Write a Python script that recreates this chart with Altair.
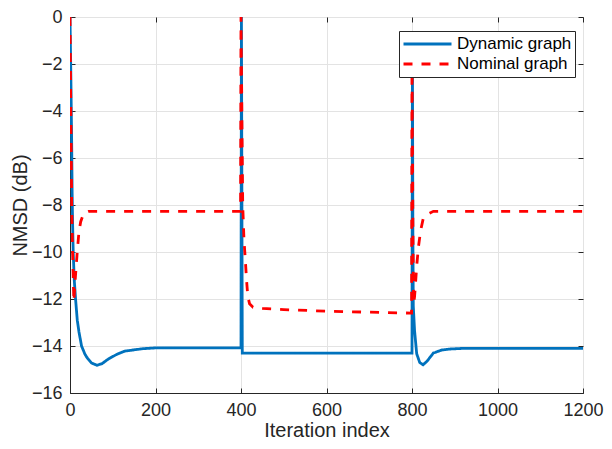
import altair as alt
import pandas as pd

# ---- data ----
series_names = ["Dynamic graph", "Nominal graph"]
series_colors = ["#0072BD", "#FF0000"]

dyn_iter = [0, 2, 4, 5, 6, 7.5, 10, 13, 17, 21, 27, 35, 40, 50, 63, 75, 90, 110, 128, 167, 200, 400,
            401, 403, 800,
            801, 802, 803, 806, 811, 818, 826, 835, 850, 870, 888, 920, 1200]
dyn_nmsd = [0, -2.5, -5.5, -7.5, -8.7, -10, -11.2, -12, -12.9, -13.4, -14, -14.35, -14.5, -14.72, -14.82,
            -14.75, -14.55, -14.35, -14.22, -14.12, -14.08, -14.08,
            0, -14.3, -14.3,
            -1.5, -9, -12.3, -13.35, -14.33, -14.7, -14.8, -14.65, -14.3, -14.17, -14.13, -14.1, -14.1]

nom_iter = [0, 2, 4, 6, 9, 13, 17, 21, 25, 32, 44, 60, 399,
            400, 402, 404, 407, 410, 413, 416, 420, 428, 450, 500, 600, 700, 799,
            800, 801, 802, 803, 804, 806, 808, 811, 815, 820, 826, 835, 850, 1200]
nom_nmsd = [0, -4, -8, -10, -12.1, -10.96, -9.98, -9.13, -8.71, -8.36, -8.27, -8.27, -8.27,
            0, -4, -8, -9.5, -10.3, -11.2, -11.9, -12.2, -12.35, -12.4, -12.45, -12.52, -12.56, -12.6,
            -1.5, -5, -8.5, -11, -12.2, -11.9, -11.4, -10.6, -9.8, -9.1, -8.6, -8.4, -8.27, -8.27]

x_ticks = [0, 200, 400, 600, 800, 1000, 1200]
y_ticks = [-16, -14, -12, -10, -8, -6, -4, -2, 0]

df = pd.concat([
    pd.DataFrame({"iter": dyn_iter, "nmsd": dyn_nmsd, "series": series_names[0]}),
    pd.DataFrame({"iter": nom_iter, "nmsd": nom_nmsd, "series": series_names[1]}),
], ignore_index=True)
df["idx"] = range(len(df))

W, H = 513, 376
FONT = "Liberation Sans"
AX = "#262626"
GRID = "#e3e3e3"

xs = alt.Scale(domain=[0, 1200], nice=False, zero=False)
ys = alt.Scale(domain=[-16, 0], nice=False, zero=False)

legend = alt.Legend(
    title=None, orient="none", legendX=329, legendY=14,
    symbolType="stroke", symbolSize=2304, symbolStrokeWidth=2.8,
    clipHeight=20, rowPadding=0, labelFontSize=17, labelFont=FONT,
    labelColor="#000000", labelOffset=4, padding=3, fillColor="white",
    strokeColor=AX, cornerRadius=0, labelLimit=300,
)
color = alt.Color("series:N", scale=alt.Scale(domain=series_names, range=series_colors), legend=legend)
dash = alt.StrokeDash("series:N", scale=alt.Scale(domain=series_names, range=[[1, 0], [9, 9]]), legend=legend)

main_x = alt.Axis(values=x_ticks, title="Iteration index", grid=True, gridColor=GRID, ticks=False,
                  labelPadding=8, labelFontSize=18, labelFont=FONT, labelColor=AX, labelFlush=False,
                  titleFontSize=20, titleFont=FONT, titleFontWeight="normal", titleColor=AX,
                  titlePadding=1, domainColor=AX, format="d")
main_y = alt.Axis(values=y_ticks, title="NMSD (dB)", grid=True, gridColor=GRID, ticks=False,
                  labelPadding=8, labelFontSize=18, labelFont=FONT, labelColor=AX, labelFlush=False,
                  titleFontSize=20, titleFont=FONT, titleFontWeight="normal", titleColor=AX,
                  titlePadding=1, domainColor=AX, format="d")


def tick_axis(values, orient, offset):
    return alt.Axis(values=values, orient=orient, offset=offset, title=None, labels=False,
                    domain=False, grid=False, ticks=True, tickSize=5, tickColor=AX, tickWidth=1)


base = alt.Chart(df)

blue = base.transform_filter(alt.datum.series == series_names[0]).mark_line(
    strokeWidth=2.8, clip=True
).encode(
    x=alt.X("iter:Q", scale=xs, axis=main_x),
    y=alt.Y("nmsd:Q", scale=ys, axis=main_y),
    color=color, strokeDash=dash, order="idx:Q",
)

red = base.transform_filter(alt.datum.series == series_names[1]).mark_line(
    strokeWidth=2.8, clip=True
).encode(
    x=alt.X("iter:Q", scale=xs, axis=tick_axis(x_ticks, "top", -H)),
    y=alt.Y("nmsd:Q", scale=ys, axis=tick_axis(y_ticks, "right", -W)),
    color=color, strokeDash=dash, order="idx:Q",
)

ghost = base.mark_line(strokeOpacity=0, clip=True).encode(
    x=alt.X("iter:Q", scale=xs, axis=tick_axis(x_ticks, "bottom", -H)),
    y=alt.Y("nmsd:Q", scale=ys, axis=tick_axis(y_ticks, "left", -W)),
    detail="series:N",
)

chart = alt.layer(blue, red, ghost).resolve_axis(x="independent", y="independent").properties(
    width=W, height=H, autosize=alt.AutoSizeParams(type="none"),
    padding={"left": 62, "top": 9, "right": 21, "bottom": 48},
    background="white",
).configure_view(stroke=AX, strokeWidth=1)

chart.save("out.html", embed_options={"renderer": "svg", "actions": False})
